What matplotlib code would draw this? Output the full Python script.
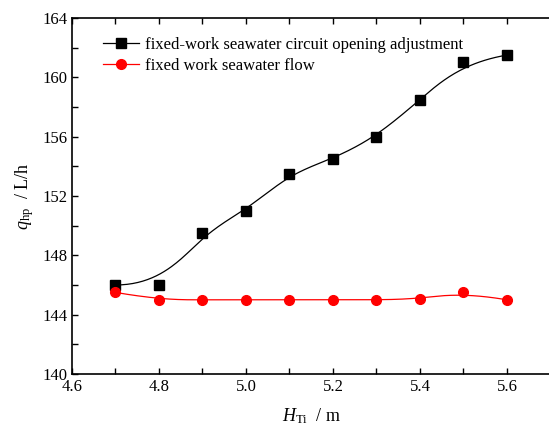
import numpy as np
import matplotlib
matplotlib.use('Agg')
import matplotlib.pyplot as plt

# data
h_ti = [4.7, 4.8, 4.9, 5.0, 5.1, 5.2, 5.3, 5.4, 5.5, 5.6]
q_opening = [146.0, 146.0, 149.5, 151.0, 153.5, 154.5, 156.0, 158.5, 161.0, 161.5]
q_flow = [145.5, 145.0, 145.0, 145.0, 145.0, 145.0, 145.0, 145.05, 145.5, 145.0]

label_opening = 'fixed-work seawater circuit opening adjustment'
label_flow = 'fixed work seawater flow'

plt.rcParams['font.family'] = 'Liberation Serif'
plt.rcParams['mathtext.fontset'] = 'custom'
plt.rcParams['mathtext.rm'] = 'Liberation Serif'
plt.rcParams['mathtext.it'] = 'Liberation Serif:italic'
plt.rcParams['font.size'] = 12


def bspline(xs, ys, n=300):
    # clamped uniform cubic B-spline with the data points as control points
    pts = np.column_stack([xs, ys])
    k = 3
    m = len(pts)
    knots = np.concatenate([np.zeros(k), np.linspace(0, 1, m - k + 1), np.ones(k)])
    t = np.linspace(0, 1 - 1e-9, n)
    out = []
    for tv in t:
        j = np.searchsorted(knots, tv, side='right') - 1
        d = [pts[j - k + i].copy() for i in range(k + 1)]
        for r in range(1, k + 1):
            for i in range(k, r - 1, -1):
                a = (tv - knots[j - k + i]) / (knots[i + 1 + j - r] - knots[j - k + i])
                d[i] = (1 - a) * d[i - 1] + a * d[i]
        out.append(d[k])
    out.append(pts[-1])
    out = np.array(out)
    return out[:, 0], out[:, 1]


fig = plt.figure(figsize=(5.49, 4.26), dpi=100)
ax = fig.add_axes([0.1311, 0.1221, 0.8716, 0.8357])

bx, by = bspline(h_ti, q_opening)
ax.plot(bx, by, color='black', lw=0.9)
ax.plot(h_ti, q_opening, 's', color='black', ms=6.5, ls='none')
rx, ry = bspline(h_ti, q_flow)
ax.plot(rx, ry, color='red', lw=0.9)
ax.plot(h_ti, q_flow, 'o', color='red', ms=7, ls='none')

# legend proxies
ax.plot([], [], '-s', color='black', ms=6.5, lw=0.9, label=label_opening)
ax.plot([], [], '-o', color='red', ms=7, lw=0.9, label=label_flow)
h, l = ax.get_legend_handles_labels()
ax.legend(h, l, loc='upper left', frameon=False, fontsize=12,
          handlelength=2.2, bbox_to_anchor=(0.04, 0.98), borderaxespad=0.3,
          labelspacing=0.3, handletextpad=0.35)

ax.set_xlim(4.6, 5.7)
ax.set_ylim(140, 164)
ax.set_xticks([4.6, 4.8, 5.0, 5.2, 5.4, 5.6])
ax.set_xticks([4.7, 4.9, 5.1, 5.3, 5.5], minor=True)
ax.set_yticks([140, 144, 148, 152, 156, 160, 164])
ax.set_yticks([142, 146, 150, 154, 158, 162], minor=True)
ax.tick_params(which='both', direction='in', top=True, right=False,
               length=4, width=1)
ax.tick_params(which='major', labelsize=12)
for s in ax.spines.values():
    s.set_linewidth(1.2)
ax.spines['right'].set_visible(False)

ax.set_xlabel(r'$H_{\rm Ti}$  / m', fontsize=13, labelpad=8)
ax.set_ylabel(r'$q_{\rm hp}$  / L/h', fontsize=13, labelpad=4)

plt.savefig('out.png', dpi=100)
